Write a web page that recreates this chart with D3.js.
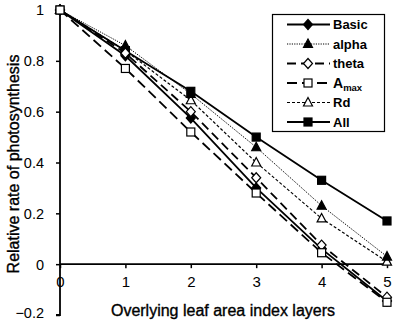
<!DOCTYPE html>
<html><head><meta charset="utf-8">
<script src="https://cdn.jsdelivr.net/npm/d3@7"></script>
<style>body{margin:0;background:#fff}svg{display:block}text{font-family:Arial,"Liberation Sans",sans-serif}</style>
</head><body>
<svg id="c" width="394" height="322"></svg>
<script>
const layers = [0, 1, 2, 3, 4, 5];
const basic = [1, 0.82, 0.575, 0.30, 0.06, -0.145];
const alpha = [1, 0.86, 0.67, 0.46, 0.23, 0.03];
const theta = [1, 0.83, 0.60, 0.34, 0.075, -0.13];
const amax  = [1, 0.77, 0.52, 0.28, 0.045, -0.15];
const rd    = [1, 0.84, 0.645, 0.40, 0.18, 0.01];
const all   = [1, 0.84, 0.68, 0.50, 0.33, 0.17];
const xTicks = [0, 1, 2, 3, 4, 5];
const yTicks = [-0.2, 0, 0.2, 0.4, 0.6, 0.8, 1];

const seriesList = [
  {name: "Basic", values: basic, dash: null, width: 1.8, marker: "diamond", fill: true},
  {name: "alpha", values: alpha, dash: "1.2,1.2", width: 1, marker: "triangle", fill: true},
  {name: "theta", values: theta, dash: "9,5", width: 1.8, marker: "diamond", fill: false},
  {name: "Amax",  values: amax,  dash: "10,5", width: 1.8, marker: "square", fill: false},
  {name: "Rd",    values: rd,    dash: "3,2", width: 1.2, marker: "triangle", fill: false},
  {name: "All",   values: all,   dash: null, width: 1.8, marker: "square", fill: true}
];

const svg = d3.select("#c");
const x = d3.scaleLinear().domain([0, 5]).range([60, 387]);
const y = d3.scaleLinear().domain([-0.2, 1]).range([315, 10]);

// axes
const yAxis = d3.axisLeft(y).tickValues(yTicks).tickSize(4).tickPadding(12)
  .tickFormat(d => d3.format("")(+d.toFixed(1)));
const gy = svg.append("g").attr("transform", `translate(${x(0)},0)`).call(yAxis);
gy.select(".domain").attr("stroke", "#000").attr("stroke-width", 1.8).attr("d", `M-4,${y(-0.2)}H0V${y(1)}`);
gy.selectAll(".tick line").attr("stroke-width", 1.5);
gy.selectAll("text").attr("font-size", 14.5).attr("fill", "#000")
  .attr("dy", d => d === -0.2 ? "0.2em" : "0.34em");

const xAxis = d3.axisBottom(x).tickValues(xTicks).tickSize(4).tickPadding(8).tickFormat(d3.format("d"));
const gx = svg.append("g").attr("transform", `translate(0,${y(0)})`).call(xAxis);
gx.select(".domain").attr("stroke", "#000").attr("stroke-width", 1.8).attr("d", `M${x(0)},0H${x(5)}`);
gx.selectAll(".tick line").attr("stroke-width", 1.5);
gx.selectAll("text").attr("font-size", 15).attr("fill", "#000");

// axis titles
svg.append("text").attr("x", 223).attr("y", 316).attr("text-anchor", "middle")
  .attr("font-size", 16).attr("fill", "#000").attr("stroke", "#000").attr("stroke-width", 0.35)
  .text("Overlying leaf area index layers");
svg.append("text").attr("transform", "translate(18.5,164) rotate(-90)").attr("text-anchor", "middle")
  .attr("font-size", 16).attr("fill", "#000").attr("stroke", "#000").attr("stroke-width", 0.35)
  .text("Relative rate of photosynthesis");

function drawMarker(g, type, fill, cx, cy) {
  const f = fill ? "#000" : "#fff";
  if (type === "square") {
    g.append("rect").attr("x", cx - 4).attr("y", cy - 4).attr("width", 8).attr("height", 8)
      .attr("fill", f).attr("stroke", "#000").attr("stroke-width", 1.2);
  } else if (type === "diamond") {
    g.append("path").attr("d", `M${cx},${cy-5}L${cx+4.5},${cy}L${cx},${cy+5}L${cx-4.5},${cy}Z`)
      .attr("fill", f).attr("stroke", "#000").attr("stroke-width", 1.2);
  } else {
    g.append("path").attr("d", `M${cx},${cy-5}L${cx+4.5},${cy+3.5}L${cx-4.5},${cy+3.5}Z`)
      .attr("fill", f).attr("stroke", "#000").attr("stroke-width", 1.2);
  }
}

const line = d3.line().x((d, i) => x(layers[i])).y(d => y(d));
const order = [5, 4, 1, 0, 2, 3];
order.forEach(k => {
  const s = seriesList[k];
  const g = svg.append("g");
  g.append("path").attr("d", line(s.values)).attr("fill", "none").attr("stroke", "#000")
    .attr("stroke-width", s.width).attr("stroke-dasharray", s.dash);
});
order.forEach(k => {
  const s = seriesList[k];
  const g = svg.append("g");
  s.values.forEach((v, i) => drawMarker(g, s.marker, s.fill, x(layers[i]), y(v)));
});

// legend
const lg = svg.append("g");
lg.append("rect").attr("x", 272.5).attr("y", 14.5).attr("width", 112).attr("height", 117)
  .attr("fill", "#fff").attr("stroke", "#000").attr("stroke-width", 1.2);
seriesList.forEach((s, i) => {
  const yy = 24.5 + i * 19.5;
  lg.append("line").attr("x1", 287).attr("x2", 330).attr("y1", yy).attr("y2", yy)
    .attr("stroke", "#000").attr("stroke-width", s.width).attr("stroke-dasharray", s.dash);
  drawMarker(lg, s.marker, s.fill, 308, yy);
  const t = lg.append("text").attr("x", 333).attr("y", yy).attr("dy", "0.36em")
    .attr("font-size", 13).attr("font-weight", "bold").attr("fill", "#000");
  if (s.name === "Amax") {
    t.append("tspan").attr("font-size", 14).text("A");
    t.append("tspan").attr("font-size", 9.5).attr("dy", "0.35em").text("max");
  } else {
    t.text(s.name);
  }
});
</script>
</body></html>
